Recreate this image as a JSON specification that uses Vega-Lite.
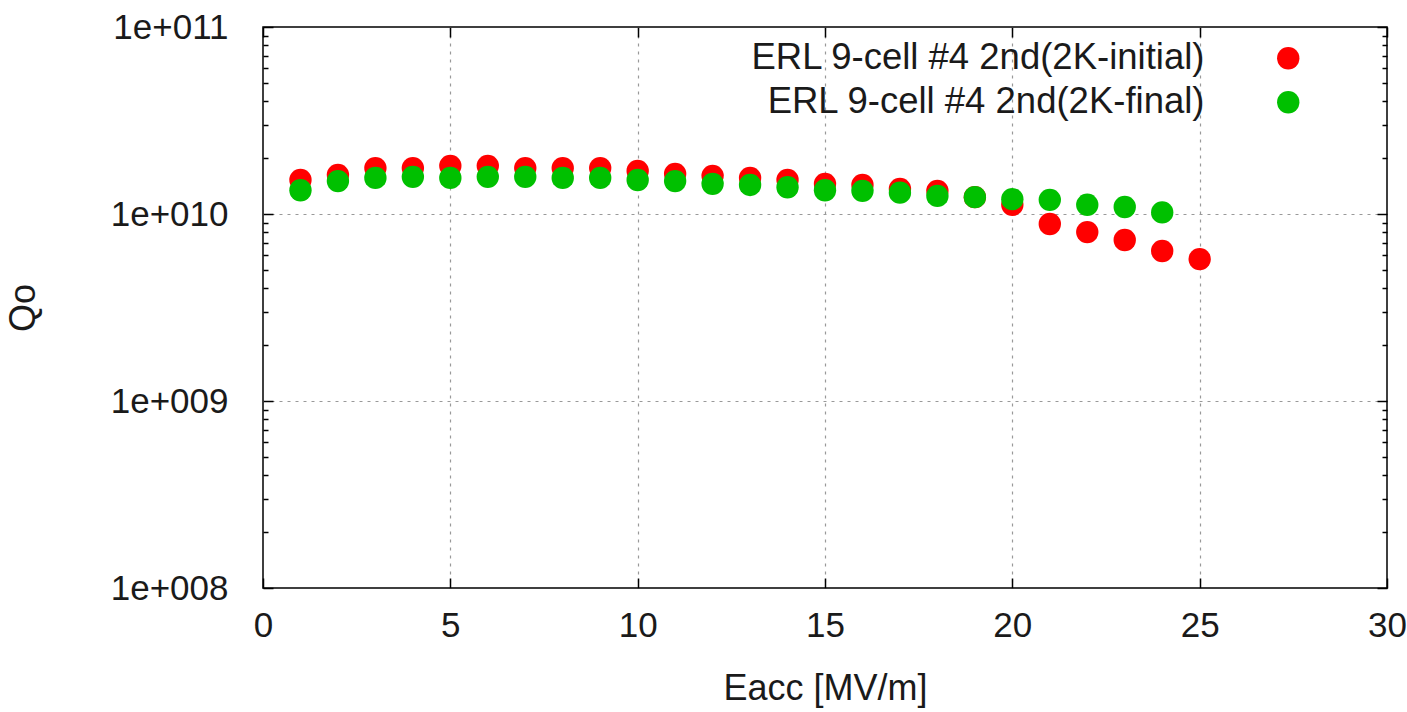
{
  "$schema": "https://vega.github.io/schema/vega-lite/v6.json",
  "width": 1124,
  "height": 561,
  "autosize": {"type": "none"},
  "padding": {"left": 263, "top": 27, "right": 20, "bottom": 124},
  "background": "white",
  "config": {
    "view": {"stroke": "#000000", "strokeWidth": 1.5},
    "font": "Liberation Sans",
    "axis": {"domain": false, "labelFont": "Liberation Sans", "titleFont": "Liberation Sans", "labelColor": "#1a1a1a", "titleColor": "#1a1a1a", "titleFontWeight": "normal", "tickColor": "#000", "tickWidth": 1.5, "labelOverlap": false, "labelBound": false, "labelFlush": false},
    "legend": {"labelFont": "Liberation Sans", "labelColor": "#1a1a1a"}
  },
  "data": {"values": [
    {"E": 1, "Q": 1.52e10, "series": "ERL 9-cell #4 2nd(2K-initial)"},
    {"E": 2, "Q": 1.62e10, "series": "ERL 9-cell #4 2nd(2K-initial)"},
    {"E": 3, "Q": 1.76e10, "series": "ERL 9-cell #4 2nd(2K-initial)"},
    {"E": 4, "Q": 1.76e10, "series": "ERL 9-cell #4 2nd(2K-initial)"},
    {"E": 5, "Q": 1.81e10, "series": "ERL 9-cell #4 2nd(2K-initial)"},
    {"E": 6, "Q": 1.81e10, "series": "ERL 9-cell #4 2nd(2K-initial)"},
    {"E": 7, "Q": 1.76e10, "series": "ERL 9-cell #4 2nd(2K-initial)"},
    {"E": 8, "Q": 1.76e10, "series": "ERL 9-cell #4 2nd(2K-initial)"},
    {"E": 9, "Q": 1.76e10, "series": "ERL 9-cell #4 2nd(2K-initial)"},
    {"E": 10, "Q": 1.70e10, "series": "ERL 9-cell #4 2nd(2K-initial)"},
    {"E": 11, "Q": 1.64e10, "series": "ERL 9-cell #4 2nd(2K-initial)"},
    {"E": 12, "Q": 1.60e10, "series": "ERL 9-cell #4 2nd(2K-initial)"},
    {"E": 13, "Q": 1.56e10, "series": "ERL 9-cell #4 2nd(2K-initial)"},
    {"E": 14, "Q": 1.52e10, "series": "ERL 9-cell #4 2nd(2K-initial)"},
    {"E": 15, "Q": 1.45e10, "series": "ERL 9-cell #4 2nd(2K-initial)"},
    {"E": 16, "Q": 1.43e10, "series": "ERL 9-cell #4 2nd(2K-initial)"},
    {"E": 17, "Q": 1.36e10, "series": "ERL 9-cell #4 2nd(2K-initial)"},
    {"E": 18, "Q": 1.33e10, "series": "ERL 9-cell #4 2nd(2K-initial)"},
    {"E": 19, "Q": 1.23e10, "series": "ERL 9-cell #4 2nd(2K-initial)"},
    {"E": 20, "Q": 1.12e10, "series": "ERL 9-cell #4 2nd(2K-initial)"},
    {"E": 21, "Q": 8.84e9, "series": "ERL 9-cell #4 2nd(2K-initial)"},
    {"E": 22, "Q": 8.0e9, "series": "ERL 9-cell #4 2nd(2K-initial)"},
    {"E": 23, "Q": 7.26e9, "series": "ERL 9-cell #4 2nd(2K-initial)"},
    {"E": 24, "Q": 6.34e9, "series": "ERL 9-cell #4 2nd(2K-initial)"},
    {"E": 25, "Q": 5.74e9, "series": "ERL 9-cell #4 2nd(2K-initial)"},
    {"E": 1, "Q": 1.34e10, "series": "ERL 9-cell #4 2nd(2K-final)"},
    {"E": 2, "Q": 1.50e10, "series": "ERL 9-cell #4 2nd(2K-final)"},
    {"E": 3, "Q": 1.56e10, "series": "ERL 9-cell #4 2nd(2K-final)"},
    {"E": 4, "Q": 1.58e10, "series": "ERL 9-cell #4 2nd(2K-final)"},
    {"E": 5, "Q": 1.56e10, "series": "ERL 9-cell #4 2nd(2K-final)"},
    {"E": 6, "Q": 1.58e10, "series": "ERL 9-cell #4 2nd(2K-final)"},
    {"E": 7, "Q": 1.58e10, "series": "ERL 9-cell #4 2nd(2K-final)"},
    {"E": 8, "Q": 1.56e10, "series": "ERL 9-cell #4 2nd(2K-final)"},
    {"E": 9, "Q": 1.56e10, "series": "ERL 9-cell #4 2nd(2K-final)"},
    {"E": 10, "Q": 1.52e10, "series": "ERL 9-cell #4 2nd(2K-final)"},
    {"E": 11, "Q": 1.50e10, "series": "ERL 9-cell #4 2nd(2K-final)"},
    {"E": 12, "Q": 1.45e10, "series": "ERL 9-cell #4 2nd(2K-final)"},
    {"E": 13, "Q": 1.43e10, "series": "ERL 9-cell #4 2nd(2K-final)"},
    {"E": 14, "Q": 1.39e10, "series": "ERL 9-cell #4 2nd(2K-final)"},
    {"E": 15, "Q": 1.34e10, "series": "ERL 9-cell #4 2nd(2K-final)"},
    {"E": 16, "Q": 1.33e10, "series": "ERL 9-cell #4 2nd(2K-final)"},
    {"E": 17, "Q": 1.30e10, "series": "ERL 9-cell #4 2nd(2K-final)"},
    {"E": 18, "Q": 1.25e10, "series": "ERL 9-cell #4 2nd(2K-final)"},
    {"E": 19, "Q": 1.23e10, "series": "ERL 9-cell #4 2nd(2K-final)"},
    {"E": 20, "Q": 1.20e10, "series": "ERL 9-cell #4 2nd(2K-final)"},
    {"E": 21, "Q": 1.19e10, "series": "ERL 9-cell #4 2nd(2K-final)"},
    {"E": 22, "Q": 1.12e10, "series": "ERL 9-cell #4 2nd(2K-final)"},
    {"E": 23, "Q": 1.09e10, "series": "ERL 9-cell #4 2nd(2K-final)"},
    {"E": 24, "Q": 1.02e10, "series": "ERL 9-cell #4 2nd(2K-final)"}
  ]},
  "resolve": {"axis": {"x": "independent", "y": "independent"}},
  "layer": [
    {
      "mark": {"type": "point", "filled": true, "shape": "circle", "size": 500, "opacity": 1},
      "encoding": {
        "x": {"field": "E", "type": "quantitative",
          "scale": {"domain": [0, 30], "nice": false, "zero": false},
          "axis": {"orient": "bottom", "values": [0, 5, 10, 15, 20, 25, 30], "title": "Eacc [MV/m]",
            "labelFontSize": 35, "titleFontSize": 36, "tickSize": -10, "labelPadding": 30, "titlePadding": 28,
            "grid": true, "gridColor": "#999999", "gridDash": [3, 5], "gridWidth": 1.2,
            "gridOpacity": {"condition": {"test": "datum.value == 0 || datum.value == 30", "value": 0}, "value": 1}}},
        "y": {"field": "Q", "type": "quantitative",
          "scale": {"type": "log", "domain": [1e8, 1e11], "nice": false},
          "axis": {"orient": "left", "title": "Qo",
            "values": [1e8, 2e8, 3e8, 4e8, 5e8, 6e8, 7e8, 8e8, 9e8, 1e9, 2e9, 3e9, 4e9, 5e9, 6e9, 7e9, 8e9, 9e9, 1e10, 2e10, 3e10, 4e10, 5e10, 6e10, 7e10, 8e10, 9e10, 1e11],
            "labelExpr": "(datum.value == 1e8 || datum.value == 1e9 || datum.value == 1e10 || datum.value == 1e11) ? '1e+0' + format(round(log(datum.value)/LN10), '02d') : ''",
            "labelFontSize": 35, "titleFontSize": 36, "labelPadding": 45, "titlePadding": 68,
            "tickSize": {"condition": {"test": "datum.value == 1e8 || datum.value == 1e9 || datum.value == 1e10 || datum.value == 1e11", "value": -10}, "value": -5},
            "grid": true, "gridColor": "#999999", "gridDash": [3, 5], "gridWidth": 1.2,
            "gridOpacity": {"condition": {"test": "datum.value == 1e9 || datum.value == 1e10", "value": 1}, "value": 0}}},
        "color": {"field": "series", "type": "nominal",
          "scale": {"domain": ["ERL 9-cell #4 2nd(2K-initial)", "ERL 9-cell #4 2nd(2K-final)"], "range": ["#ff0000", "#00c000"]},
          "legend": {"orient": "none", "legendX": 1007, "legendY": 13, "title": null, "padding": 0,
            "labelFontSize": 36.5, "labelAlign": "right", "labelOffset": -102, "rowPadding": 7,
            "symbolType": "circle", "symbolSize": 500, "symbolStrokeWidth": 0, "symbolOpacity": 1, "labelLimit": 0}}
      }
    },
    {
      "mark": {"type": "point", "filled": true, "opacity": 0},
      "encoding": {
        "x": {"field": "E", "type": "quantitative",
          "axis": {"orient": "top", "values": [0, 5, 10, 15, 20, 25, 30], "title": null, "labels": false, "grid": false, "tickSize": -10}},
        "y": {"field": "Q", "type": "quantitative",
          "axis": {"orient": "right", "title": null, "labels": false, "grid": false,
            "values": [1e8, 2e8, 3e8, 4e8, 5e8, 6e8, 7e8, 8e8, 9e8, 1e9, 2e9, 3e9, 4e9, 5e9, 6e9, 7e9, 8e9, 9e9, 1e10, 2e10, 3e10, 4e10, 5e10, 6e10, 7e10, 8e10, 9e10, 1e11],
            "tickSize": {"condition": {"test": "datum.value == 1e8 || datum.value == 1e9 || datum.value == 1e10 || datum.value == 1e11", "value": -10}, "value": -5}}}
      }
    }
  ]
}
